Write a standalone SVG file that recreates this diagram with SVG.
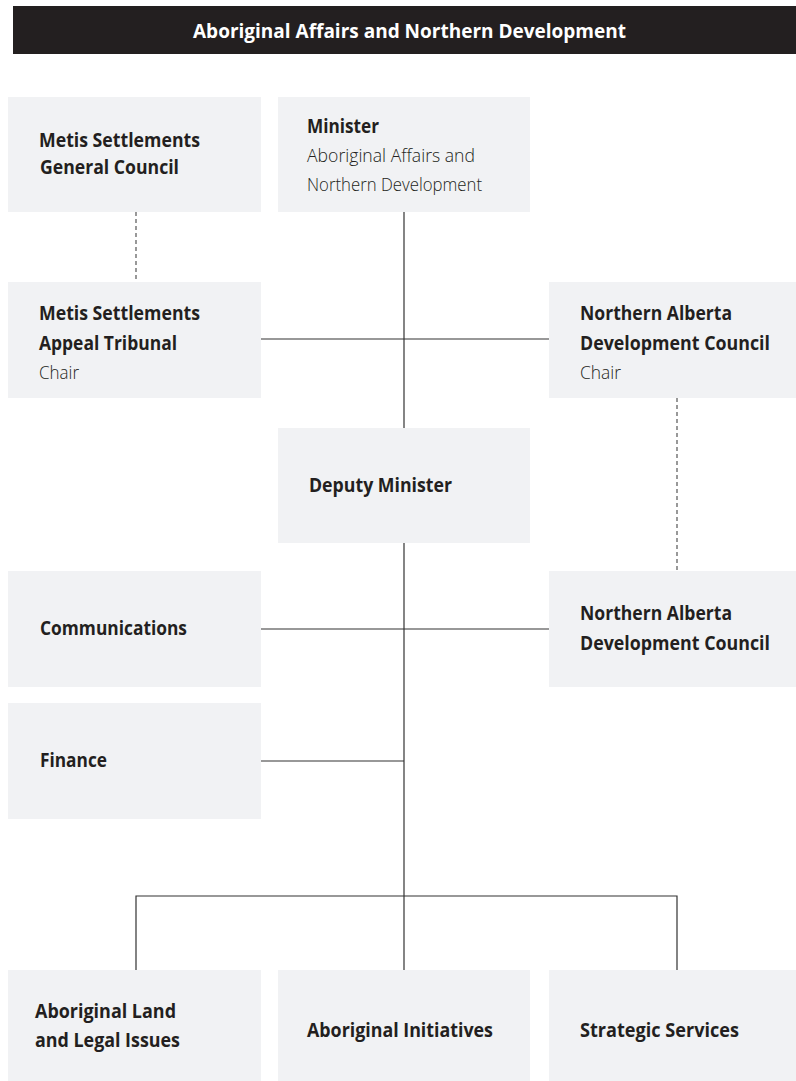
<svg xmlns="http://www.w3.org/2000/svg" width="796" height="1081" viewBox="0 0 796 1081">
  <style>
    .box { fill: #f1f2f4; }
    .b { font-family: "Open Sans", "Liberation Sans", sans-serif; font-weight: 700; font-size: 19px; fill: #231f20; }
    .l { font-family: "Open Sans", "Liberation Sans", sans-serif; font-weight: 300; font-size: 19px; fill: #231f20; }
    .hdr { font-family: "Open Sans", "Liberation Sans", sans-serif; font-weight: 700; font-size: 19px; fill: #ffffff; }
    .ln { stroke: #333333; stroke-width: 1.2; fill: none; }
    .dash { stroke: #555555; stroke-width: 1.2; fill: none; stroke-dasharray: 4 3; }
  </style>
  <rect width="796" height="1081" fill="#ffffff"/>

  <g id="header">
    <rect x="13" y="6" width="783" height="48" fill="#231f20"/>
    <text class="hdr" x="193" y="38" textLength="433" lengthAdjust="spacingAndGlyphs">Aboriginal Affairs and Northern Development</text>
  </g>

  <g id="connectors">
    <line class="dash" x1="136" y1="212" x2="136" y2="282"/>
    <line class="ln" x1="404" y1="212" x2="404" y2="428"/>
    <line class="ln" x1="261" y1="339" x2="549" y2="339"/>
    <line class="dash" x1="677" y1="398" x2="677" y2="571"/>
    <line class="ln" x1="404" y1="543" x2="404" y2="970"/>
    <line class="ln" x1="261" y1="629" x2="549" y2="629"/>
    <line class="ln" x1="261" y1="761" x2="404" y2="761"/>
    <polyline class="ln" points="136,970 136,896 677,896 677,970"/>
  </g>

  <g id="metis-general-council">
    <rect class="box" x="8" y="97" width="253" height="115"/>
    <text class="b" x="39" y="147" textLength="161" lengthAdjust="spacingAndGlyphs">Metis Settlements</text>
    <text class="b" x="40" y="174" textLength="139" lengthAdjust="spacingAndGlyphs">General Council</text>
  </g>

  <g id="minister">
    <rect class="box" x="278" y="97" width="252" height="115"/>
    <text class="b" x="307" y="133" textLength="72" lengthAdjust="spacingAndGlyphs">Minister</text>
    <text class="l" x="307" y="162" textLength="168" lengthAdjust="spacingAndGlyphs">Aboriginal Affairs and</text>
    <text class="l" x="307" y="191" textLength="175" lengthAdjust="spacingAndGlyphs">Northern Development</text>
  </g>

  <g id="metis-appeal-tribunal">
    <rect class="box" x="8" y="282" width="253" height="116"/>
    <text class="b" x="39" y="320" textLength="161" lengthAdjust="spacingAndGlyphs">Metis Settlements</text>
    <text class="b" x="39" y="350" textLength="138" lengthAdjust="spacingAndGlyphs">Appeal Tribunal</text>
    <text class="l" x="39" y="379" textLength="40" lengthAdjust="spacingAndGlyphs">Chair</text>
  </g>

  <g id="nadc-chair">
    <rect class="box" x="549" y="282" width="247" height="116"/>
    <text class="b" x="580" y="320" textLength="152" lengthAdjust="spacingAndGlyphs">Northern Alberta</text>
    <text class="b" x="580" y="350" textLength="190" lengthAdjust="spacingAndGlyphs">Development Council</text>
    <text class="l" x="580" y="379" textLength="41" lengthAdjust="spacingAndGlyphs">Chair</text>
  </g>

  <g id="deputy-minister">
    <rect class="box" x="278" y="428" width="252" height="115"/>
    <text class="b" x="309" y="492" textLength="143" lengthAdjust="spacingAndGlyphs">Deputy Minister</text>
  </g>

  <g id="communications">
    <rect class="box" x="8" y="571" width="253" height="116"/>
    <text class="b" x="40" y="635" textLength="147" lengthAdjust="spacingAndGlyphs">Communications</text>
  </g>

  <g id="nadc">
    <rect class="box" x="549" y="571" width="247" height="116"/>
    <text class="b" x="580" y="620" textLength="152" lengthAdjust="spacingAndGlyphs">Northern Alberta</text>
    <text class="b" x="580" y="650" textLength="190" lengthAdjust="spacingAndGlyphs">Development Council</text>
  </g>

  <g id="finance">
    <rect class="box" x="8" y="703" width="253" height="116"/>
    <text class="b" x="40" y="767" textLength="67" lengthAdjust="spacingAndGlyphs">Finance</text>
  </g>

  <g id="land-legal">
    <rect class="box" x="8" y="970" width="253" height="111"/>
    <text class="b" x="35" y="1018" textLength="141" lengthAdjust="spacingAndGlyphs">Aboriginal Land</text>
    <text class="b" x="35" y="1047" textLength="145" lengthAdjust="spacingAndGlyphs">and Legal Issues</text>
  </g>

  <g id="aboriginal-initiatives">
    <rect class="box" x="278" y="970" width="252" height="111"/>
    <text class="b" x="307" y="1037" textLength="186" lengthAdjust="spacingAndGlyphs">Aboriginal Initiatives</text>
  </g>

  <g id="strategic-services">
    <rect class="box" x="549" y="970" width="247" height="111"/>
    <text class="b" x="580" y="1037" textLength="159" lengthAdjust="spacingAndGlyphs">Strategic Services</text>
  </g>
</svg>
